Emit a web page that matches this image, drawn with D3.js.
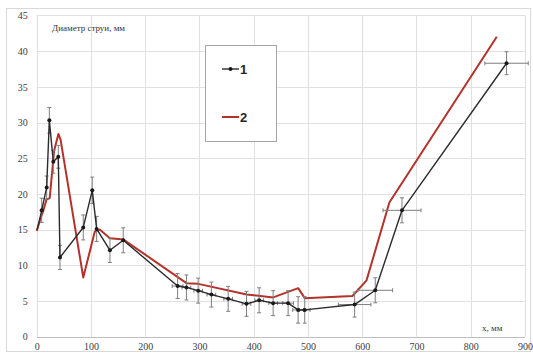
<!DOCTYPE html>
<html>
<head>
<meta charset="utf-8">
<script src="https://cdn.jsdelivr.net/npm/d3@7"></script>
<style>
  html, body { margin: 0; padding: 0; background: #fff; }
  svg { display: block; }
</style>
</head>
<body>
<svg id="chart" width="533" height="353"></svg>
<script>
// Series 1: measured jet diameter with error bars
const x1 = [1, 9.2, 18.4, 23.3, 30.6, 39.8, 42.9, 85.8, 102.4, 110.5, 135, 159.5, 259.7, 276, 297.6, 322, 352.9, 386.7, 410, 435.8, 463.4, 481.8, 494, 586, 624, 673.3, 866];
const y1 = [15.0, 17.7, 20.9, 30.3, 24.5, 25.2, 11.1, 15.3, 20.5, 15.1, 12.1, 13.5, 7.1, 6.9, 6.45, 5.9, 5.3, 4.6, 5.1, 4.7, 4.7, 3.75, 3.75, 4.5, 6.5, 17.7, 38.3];
const yErr1 = [0, 1.7, 1.6, 1.8, 1.6, 1.6, 1.7, 1.75, 1.85, 1.75, 1.7, 1.75, 1.75, 1.75, 1.75, 1.75, 1.75, 1.75, 1.75, 1.75, 1.75, 1.85, 1.85, 1.75, 1.75, 1.75, 1.6];
const xErr1 = [0, 0, 0, 0, 0, 0, 0, 0, 0, 0, 0, 0, 10, 8, 8, 8, 8, 8, 8, 8, 10, 10, 10, 30, 32, 35, 40];

// Series 2: calculated diameter
const x2 = [0, 9, 12, 18, 24, 32, 40, 44, 85.8, 107, 116, 135, 160, 276, 298, 387, 436, 482, 494, 582, 608, 650, 848];
const y2 = [14.8, 17.0, 17.6, 19.2, 19.4, 26.0, 28.4, 27.6, 8.3, 14.7, 15.0, 13.8, 13.6, 7.5, 7.4, 5.9, 5.5, 6.8, 5.4, 5.7, 7.9, 18.8, 42.0];

const xTicks = [0, 100, 200, 300, 400, 500, 600, 700, 800, 900];
const yTicks = [0, 5, 10, 15, 20, 25, 30, 35, 40, 45];
const seriesNames = ["1", "2"];

const svg = d3.select("#chart");
const W = 533, H = 353;
const pLeft = 36.7, pRight = 525, pTop = 15.4, pBottom = 336.7;

const x = d3.scaleLinear().domain([0, 900]).range([pLeft, pRight]);
const y = d3.scaleLinear().domain([0, 45]).range([pBottom, pTop]);

const serif = "'Liberation Serif', 'Times New Roman', serif";

// chart area frame
svg.append("rect")
  .attr("x", 6.5).attr("y", 8.5).attr("width", W - 9).attr("height", H - 10)
  .attr("fill", "#fff").attr("stroke", "#d9d9d9");

// gridlines
svg.append("g")
  .selectAll("line").data(yTicks).join("line")
  .attr("x1", pLeft).attr("x2", pRight)
  .attr("y1", d => Math.round(y(d)) + 0.5).attr("y2", d => Math.round(y(d)) + 0.5)
  .attr("stroke", d => d === 0 ? "#bfbfbf" : "#e0e0e0").attr("stroke-width", 1);
svg.append("g")
  .selectAll("line").data(xTicks).join("line")
  .attr("y1", pTop).attr("y2", pBottom)
  .attr("x1", d => Math.round(x(d)) + 0.5).attr("x2", d => Math.round(x(d)) + 0.5)
  .attr("stroke", "#e0e0e0").attr("stroke-width", 1);

// axes (tick labels only)
const yAxis = svg.append("g")
  .attr("transform", `translate(${pLeft},0)`)
  .call(d3.axisLeft(y).tickValues(yTicks).tickSize(0).tickPadding(9));
yAxis.select(".domain").remove();
yAxis.selectAll("text").attr("font-family", serif).attr("font-size", 10).attr("fill", "#404040");

const xAxis = svg.append("g")
  .attr("transform", `translate(0,${pBottom})`)
  .call(d3.axisBottom(x).tickValues(xTicks).tickSize(0).tickPadding(6));
xAxis.select(".domain").remove();
xAxis.selectAll("text").attr("font-family", serif).attr("font-size", 10).attr("fill", "#404040");

// axis captions
svg.append("text").attr("x", 52).attr("y", 31)
  .attr("font-family", serif).attr("font-size", 9).attr("fill", "#333")
  .text("Диаметр струи, мм");
svg.append("text").attr("x", 482).attr("y", 331)
  .attr("font-family", serif).attr("font-size", 9).attr("fill", "#333")
  .text("x, мм");

const line = d3.line().x(d => x(d[0])).y(d => y(d[1]));
const pts1 = x1.map((v, i) => [v, y1[i], yErr1[i], xErr1[i]]);
const pts2 = x2.map((v, i) => [v, y2[i]]);

// series 2 line
svg.append("path").datum(pts2)
  .attr("d", line).attr("fill", "none")
  .attr("stroke", "#b3332b").attr("stroke-width", 2).attr("stroke-linejoin", "round");

// error bars of series 1
const eb = svg.append("g").attr("stroke", "#7f7f7f").attr("stroke-width", 1).attr("fill", "none");
pts1.filter(d => d[2] > 0).forEach(d => {
  const cx = x(d[0]), y0 = y(d[1] - d[2]), y3 = y(d[1] + d[2]);
  eb.append("line").attr("x1", cx).attr("x2", cx).attr("y1", y0).attr("y2", y3);
  eb.append("line").attr("x1", cx - 2).attr("x2", cx + 2).attr("y1", y0).attr("y2", y0);
  eb.append("line").attr("x1", cx - 2).attr("x2", cx + 2).attr("y1", y3).attr("y2", y3);
});
pts1.filter(d => d[3] > 0).forEach(d => {
  const cy = y(d[1]), xa = x(d[0] - d[3]), xb = x(d[0] + d[3]);
  eb.append("line").attr("x1", xa).attr("x2", xb).attr("y1", cy).attr("y2", cy);
  eb.append("line").attr("x1", xa).attr("x2", xa).attr("y1", cy - 2).attr("y2", cy + 2);
  eb.append("line").attr("x1", xb).attr("x2", xb).attr("y1", cy - 2).attr("y2", cy + 2);
});

// series 1 line and markers
svg.append("path").datum(pts1)
  .attr("d", line).attr("fill", "none")
  .attr("stroke", "#2b2b2b").attr("stroke-width", 1.4).attr("stroke-linejoin", "round");
svg.append("g").selectAll("circle").data(pts1.slice(1)).join("circle")
  .attr("cx", d => x(d[0])).attr("cy", d => y(d[1])).attr("r", 2)
  .attr("fill", "#1a1a1a");

// legend
const lg = svg.append("g");
lg.append("rect").attr("x", 205.5).attr("y", 45.5).attr("width", 71).attr("height", 96)
  .attr("fill", "#fff").attr("stroke", "#a6a6a6");
const legendRows = [
  { name: seriesNames[0], color: "#2b2b2b", marker: true, yy: 69 },
  { name: seriesNames[1], color: "#b3332b", marker: false, yy: 117 }
];
legendRows.forEach(r => {
  lg.append("line").attr("x1", 222).attr("x2", 239).attr("y1", r.yy).attr("y2", r.yy)
    .attr("stroke", r.color).attr("stroke-width", r.marker ? 1.4 : 2);
  if (r.marker) lg.append("circle").attr("cx", 230.5).attr("cy", r.yy).attr("r", 2).attr("fill", "#1a1a1a");
  lg.append("text").attr("x", 240).attr("y", r.yy + 4.5)
    .attr("font-family", "'Liberation Sans', Arial, sans-serif").attr("font-weight", "bold")
    .attr("font-size", 13).attr("fill", "#262626").text(r.name);
});
</script>
</body>
</html>
